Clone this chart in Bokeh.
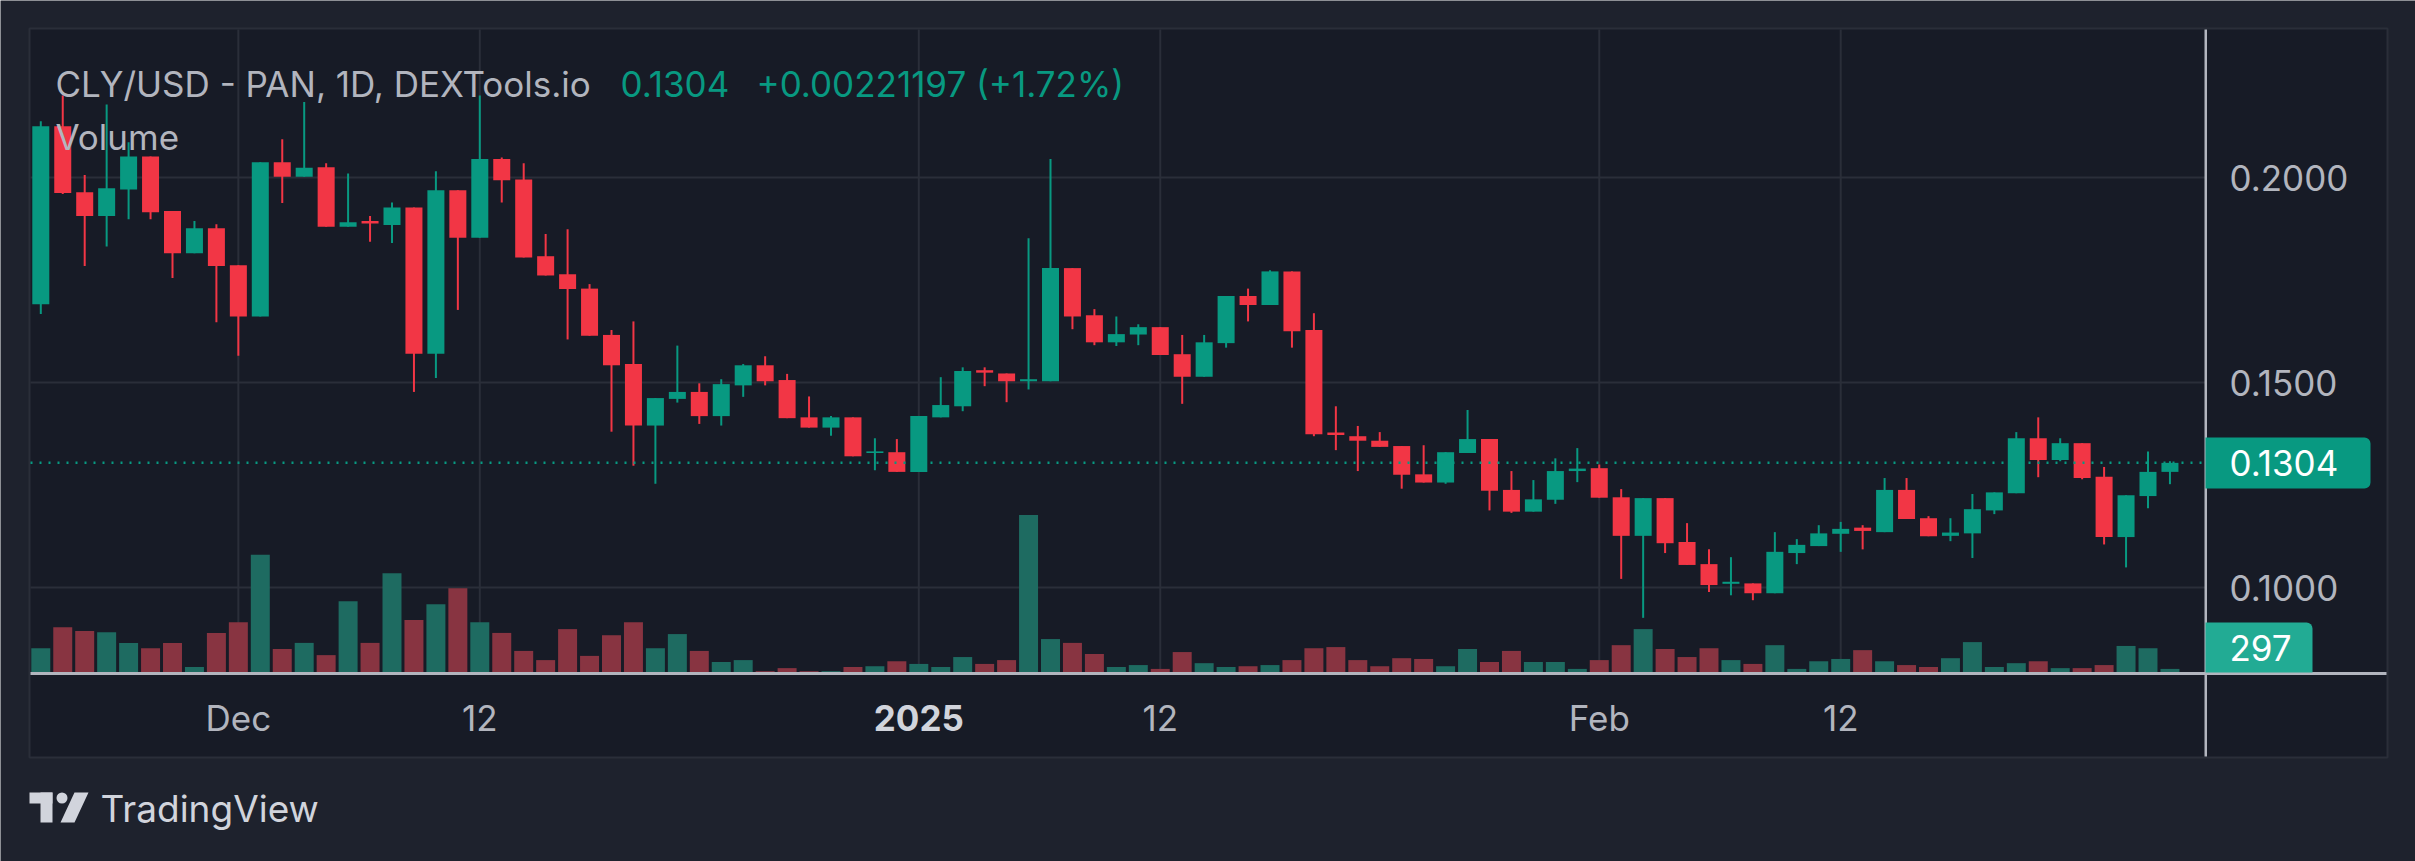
import pandas as pd
from bokeh.plotting import figure
from bokeh.core.properties import value
from bokeh.models import (Range1d, BoxAnnotation, Label, PolyAnnotation, ColumnDataSource)
from bokeh.embed import file_html
from bokeh.resources import INLINE

# ---------------- data ----------------
start_date = "2024-11-22"
opens = [0.1691, 0.2125, 0.1964, 0.1906, 0.1971, 0.2051, 0.1918, 0.1815, 0.1876, 0.1786,
         0.1661, 0.2037, 0.2002, 0.2025, 0.1880, 0.1894, 0.1884, 0.1927, 0.1570, 0.1969,
         0.1853, 0.2045, 0.1995, 0.1808, 0.1764, 0.1729, 0.1616, 0.1545, 0.1395, 0.1460,
         0.1477, 0.1418, 0.1493, 0.1542, 0.1506, 0.1415, 0.1390, 0.1415, 0.1328, 0.1330,
         0.1282, 0.1415, 0.1442, 0.1530, 0.1522, 0.1503, 0.1503, 0.1779, 0.1664, 0.1598,
         0.1617, 0.1635, 0.1569, 0.1514, 0.1596, 0.1711, 0.1689, 0.1771, 0.1628, 0.1378,
         0.1369, 0.1358, 0.1345, 0.1276, 0.1256, 0.1328, 0.1362, 0.1238, 0.1185, 0.1214,
         0.1284, 0.1291, 0.1220, 0.1126, 0.1218, 0.1111, 0.1057, 0.1009, 0.1010, 0.0986,
         0.1084, 0.1101, 0.1131, 0.1146, 0.1135, 0.1238, 0.1169, 0.1126, 0.1132, 0.1188,
         0.1230, 0.1364, 0.1311, 0.1352, 0.1270, 0.1123, 0.1223, 0.1282]
highs = [0.2137, 0.2200, 0.2006, 0.2178, 0.2086, 0.2051, 0.1918, 0.1894, 0.1886, 0.1786,
         0.2037, 0.2093, 0.2184, 0.2035, 0.2010, 0.1906, 0.1939, 0.1927, 0.2015, 0.1969,
         0.2200, 0.2049, 0.2035, 0.1862, 0.1874, 0.1740, 0.1628, 0.1649, 0.1462, 0.1590,
         0.1498, 0.1508, 0.1545, 0.1564, 0.1521, 0.1466, 0.1418, 0.1415, 0.1364, 0.1362,
         0.1418, 0.1513, 0.1537, 0.1537, 0.1522, 0.1852, 0.2045, 0.1779, 0.1679, 0.1661,
         0.1642, 0.1635, 0.1616, 0.1616, 0.1711, 0.1729, 0.1774, 0.1771, 0.1669, 0.1442,
         0.1394, 0.1379, 0.1345, 0.1347, 0.1330, 0.1433, 0.1362, 0.1284, 0.1262, 0.1315,
         0.1340, 0.1300, 0.1240, 0.1218, 0.1218, 0.1157, 0.1093, 0.1074, 0.1010, 0.1135,
         0.1118, 0.1152, 0.1160, 0.1152, 0.1267, 0.1267, 0.1174, 0.1169, 0.1228, 0.1232,
         0.1379, 0.1415, 0.1364, 0.1352, 0.1294, 0.1225, 0.1332, 0.1308]
lows = [0.1667, 0.1960, 0.1784, 0.1832, 0.1898, 0.1898, 0.1755, 0.1815, 0.1647, 0.1565,
        0.1661, 0.1938, 0.2002, 0.1880, 0.1880, 0.1843, 0.1840, 0.1477, 0.1511, 0.1677,
        0.1853, 0.1939, 0.1805, 0.1761, 0.1605, 0.1614, 0.1380, 0.1297, 0.1253, 0.1451,
        0.1399, 0.1395, 0.1465, 0.1493, 0.1413, 0.1390, 0.1370, 0.1320, 0.1286, 0.1282,
        0.1282, 0.1415, 0.1430, 0.1491, 0.1452, 0.1483, 0.1503, 0.1630, 0.1591, 0.1589,
        0.1591, 0.1567, 0.1448, 0.1514, 0.1585, 0.1649, 0.1689, 0.1585, 0.1369, 0.1335,
        0.1284, 0.1343, 0.1241, 0.1256, 0.1253, 0.1328, 0.1188, 0.1182, 0.1185, 0.1204,
        0.1257, 0.1219, 0.1021, 0.0926, 0.1084, 0.1055, 0.0989, 0.0981, 0.0969, 0.0986,
        0.1057, 0.1101, 0.1087, 0.1093, 0.1135, 0.1167, 0.1125, 0.1113, 0.1072, 0.1179,
        0.1230, 0.1269, 0.1308, 0.1264, 0.1105, 0.1049, 0.1193, 0.1252]
closes = [0.2125, 0.1962, 0.1906, 0.1974, 0.2051, 0.1915, 0.1815, 0.1876, 0.1784, 0.1661,
          0.2037, 0.2002, 0.2024, 0.1880, 0.1891, 0.1888, 0.1927, 0.1570, 0.1969, 0.1853,
          0.2045, 0.1993, 0.1805, 0.1761, 0.1728, 0.1614, 0.1542, 0.1395, 0.1462, 0.1477,
          0.1418, 0.1496, 0.1542, 0.1503, 0.1413, 0.1390, 0.1415, 0.1320, 0.1332, 0.1282,
          0.1418, 0.1445, 0.1528, 0.1524, 0.1503, 0.1508, 0.1779, 0.1661, 0.1598, 0.1618,
          0.1635, 0.1567, 0.1514, 0.1598, 0.1711, 0.1689, 0.1771, 0.1625, 0.1374, 0.1372,
          0.1358, 0.1343, 0.1275, 0.1256, 0.1330, 0.1362, 0.1236, 0.1185, 0.1215, 0.1284,
          0.1290, 0.1219, 0.1126, 0.1218, 0.1108, 0.1055, 0.1006, 0.1014, 0.0986, 0.1087,
          0.1104, 0.1132, 0.1143, 0.1138, 0.1238, 0.1167, 0.1125, 0.1134, 0.1191, 0.1232,
          0.1364, 0.1311, 0.1352, 0.1267, 0.1123, 0.1225, 0.1282, 0.1304]
volumes = [1634, 2995, 2747, 2673, 1980, 1634, 1980, 421, 2624, 3317,
           7673, 1584, 1980, 1188, 4678, 1980, 6485, 3465, 4480, 5519,
           3317, 2624, 1460, 866, 2871, 1139, 2475, 3317, 1634, 2549,
           1460, 743, 866, 149, 347, 149, 149, 421, 470, 792,
           619, 421, 1064, 619, 866, 10247, 2228, 1980, 1262, 421,
           545, 297, 1386, 668, 421, 470, 545, 866, 1634, 1708,
           866, 470, 990, 941, 470, 1584, 743, 1460, 743, 743,
           297, 866, 1832, 2871, 1584, 1064, 1634, 866, 619, 1832,
           297, 792, 941, 1510, 792, 545, 421, 990, 2030, 421,
           668, 792, 347, 347, 545, 1782, 1634, 297]

tick_days = [9, 20, 40, 51, 71, 82]
tick_labels = ["Dec", "12", "2025", "12", "Feb", "12"]
bold_labels = ["2025"]
price_ticks = [0.10, 0.15, 0.20]
price_tick_labels = ["0.1000", "0.1500", "0.2000"]
last_price = 0.1304
price_change = 0.00221197
pct_change = 1.72
last_volume = 297
symbol_title = "CLY/USD - PAN, 1D, DEXTools.io"
volume_title = "Volume"

# ---------------- style / geometry (pixels of the 2415x861 page) ----------------
W, H = 2415, 861
FL, FR, FT, FB = 30, 2205, 29, 673          # price pane
PANEL_R, PANEL_B = 2386, 756                # chart panel outer edges
DAY_PX, FIRST_PX = 21.95, 40.3
PRICE_PX, REF_P, REF_PY = 4100.0, 0.2, 177.0
VOL_PER_PX = 64.67

OUTER = "#1e222d"
PANEL = "#171b26"
GRID = "#2a2e39"
UP, DOWN = "#089981", "#f23645"
VUP, VDOWN = "#1e6b61", "#883441"
TXT = "#b2b5be"
SEP = "#b2b5be"
LOGO = "#d1d4dc"
FONT = "Inter"
C = "canvas"

def dx(px):
    return (px - FIRST_PX) / DAY_PX

def dy(py):
    return REF_P - (py - REF_PY) / PRICE_PX

def cbox(l, r, t, b, color, level="annotation", **kw):
    return BoxAnnotation(left=l, right=r, top=t, bottom=b, left_units=C, right_units=C,
                         top_units=C, bottom_units=C, fill_color=color, fill_alpha=1,
                         line_color=None, level=level, **kw)

def clabel(x, y, text, level="annotation", **kw):
    opts = dict(text_font=FONT, text_font_size="35px", text_baseline="middle")
    opts.update(kw)
    return Label(x=x, y=y, x_units=C, y_units=C, text=text, level=level, **opts)

n = len(closes)
dates = pd.date_range(start_date, periods=n, freq="D")
idx = list(range(n))
up = [c >= o for o, c in zip(opens, closes)]
src = ColumnDataSource(dict(
    x=idx, date=dates, open=opens, high=highs, low=lows, close=closes,
    top=[max(o, c) for o, c in zip(opens, closes)],
    bottom=[min(o, c) for o, c in zip(opens, closes)],
    color=[UP if u else DOWN for u in up],
    vol=volumes,
    vcolor=[VUP if u else VDOWN for u in up],
))

p = figure(width=W, height=H, output_backend="svg", toolbar_location=None, title=None,
           x_range=Range1d(dx(0), dx(W)), y_range=Range1d(dy(H), dy(0)),
           min_border=0, x_axis_location=None, y_axis_location=None,
           background_fill_color=OUTER, border_fill_color=OUTER, outline_line_color=None)
for g in list(p.grid):
    g.visible = False
p.extra_y_ranges = {"vol": Range1d(-(H - FB) * VOL_PER_PX, FB * VOL_PER_PX)}

# chart panel
p.add_layout(BoxAnnotation(left=FL - 1, right=PANEL_R + 1, top=FT - 1, bottom=PANEL_B + 1,
                           left_units=C, right_units=C, top_units=C, bottom_units=C,
                           fill_color=PANEL, fill_alpha=1, line_color=GRID, line_alpha=1,
                           line_width=2, level="image"))

# grid lines (price pane only)
p.segment(x0=tick_days, x1=tick_days, y0=[dy(FB)] * len(tick_days), y1=[dy(FT)] * len(tick_days),
          line_color=GRID, line_width=2, level="underlay")
p.segment(x0=[dx(FL)] * len(price_ticks), x1=[dx(FR)] * len(price_ticks), y0=price_ticks,
          y1=price_ticks, line_color=GRID, line_width=2, level="underlay")

# volume
p.vbar(x="x", top="vol", bottom=0, width=0.865, fill_color="vcolor", line_color=None,
       y_range_name="vol", source=src)
# candles
p.segment(x0="x", y0="low", x1="x", y1="high", line_color="color", line_width=2, source=src)
p.vbar(x="x", top="top", bottom="bottom", width=0.775, fill_color="color", line_color=None,
       source=src)

# last price line
p.segment(x0=[dx(FL)], x1=[dx(FR)], y0=[last_price], y1=[last_price], line_color=UP,
          line_width=2.5, line_dash="2 7")

# price scale labels
p.text(x=[dx(2229)] * len(price_ticks), y=price_ticks, text=price_tick_labels,
       text_font=value(FONT), text_font_size=value("35px"), text_color=TXT,
       text_baseline="middle", text_align="left")
# time scale labels
p.text(x=tick_days, y=[dy(717)] * len(tick_days), text=tick_labels,
       text_font=value(FONT), text_font_size=value("35px"),
       text_font_style=["bold" if l in bold_labels else "normal" for l in tick_labels],
       text_color=["#d1d4dc" if l in bold_labels else TXT for l in tick_labels],
       text_baseline="middle", text_align="center")

# separators
p.add_layout(cbox(FR - 1, FR + 1.5, FT, PANEL_B, SEP, level="overlay"))
p.add_layout(cbox(FL, PANEL_R, FB - 1.5, FB + 1.5, SEP, level="overlay"))

# price / volume tags
p.add_layout(cbox(FR, 2370, 437, 488, UP, level="overlay", border_radius=(0, 6, 6, 0)))
p.add_layout(clabel(2229, 462, f"{last_price:.4f}", level="overlay", text_color="#ffffff"))
p.add_layout(cbox(FR, 2312, 622, 672, "#22ab94", level="overlay", border_radius=(0, 6, 0, 0)))
p.add_layout(clabel(2229, 647, f"{last_volume}", level="overlay", text_color="#ffffff"))

# legend texts
p.add_layout(clabel(55, 83, symbol_title, text_color=TXT))
p.add_layout(clabel(620, 83, f"{last_price:.4f}", text_color=UP))
p.add_layout(clabel(756, 83, f"+{price_change:.8f} (+{pct_change:.2f}%)", text_color=UP))
p.add_layout(clabel(55, 136, volume_title, text_color=TXT))

# TradingView logo
p.add_layout(cbox(29, 52, 792, 803, LOGO))
p.add_layout(cbox(40, 52, 792, 822, LOGO))
p.add_layout(cbox(56, 67, 792, 803, LOGO, border_radius=6))
p.add_layout(PolyAnnotation(xs=[74, 88, 74, 60], ys=[792, 792, 822, 822], xs_units=C, ys_units=C,
                            fill_color=LOGO, fill_alpha=1, line_color=None))
p.add_layout(clabel(100, 808, "TradingView", text_color=LOGO, text_font_size="37px"))

open("out.html", "w").write(file_html(p, INLINE))
